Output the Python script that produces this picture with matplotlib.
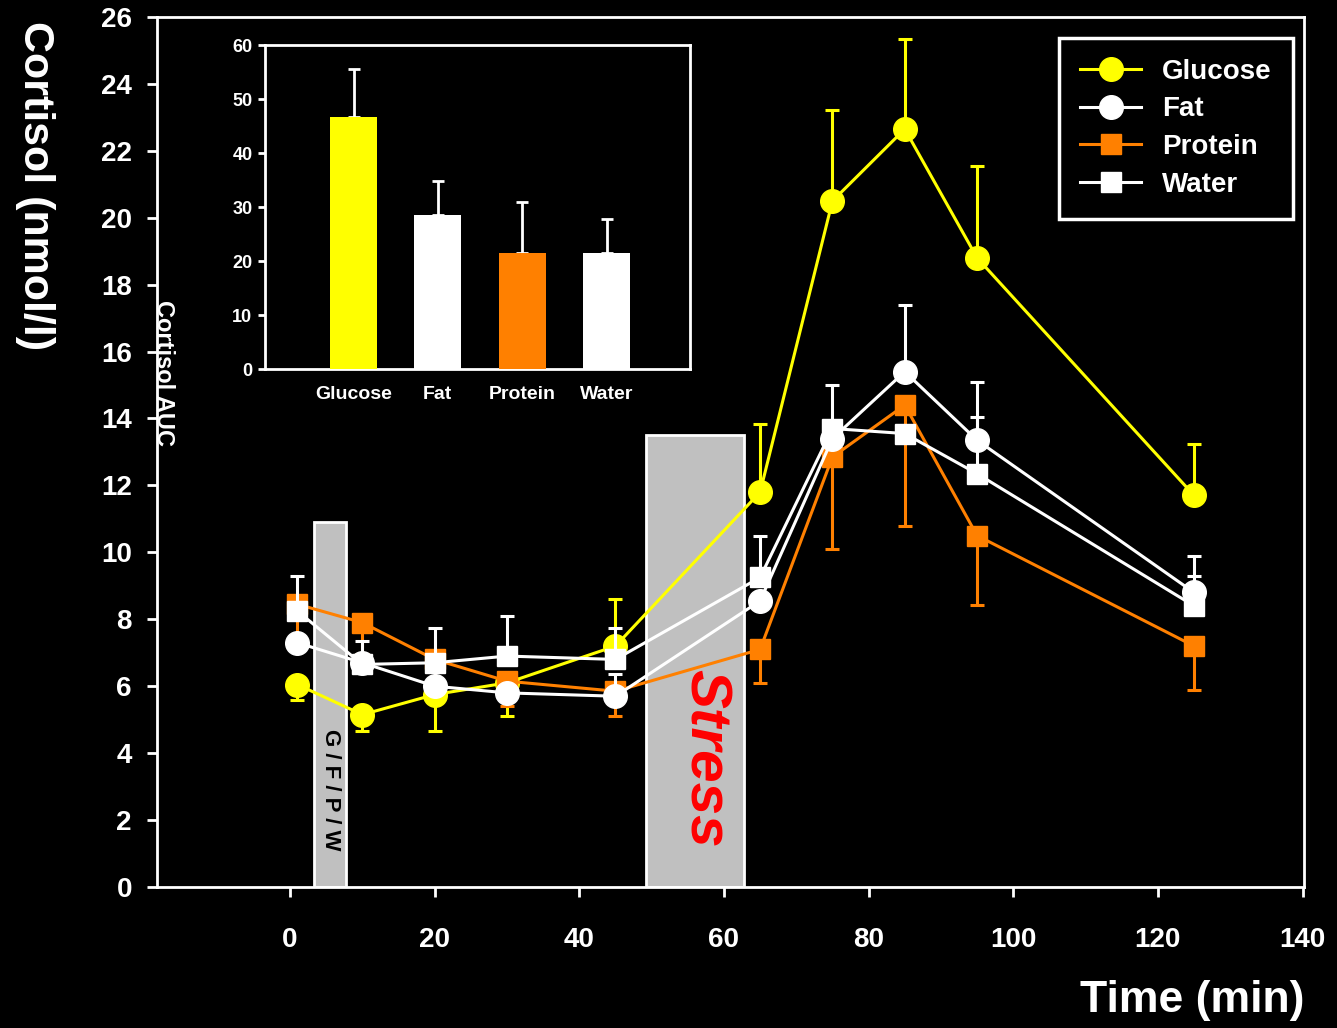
import numpy as np
import matplotlib.pyplot as plt
from matplotlib.patches import Rectangle

plt.rcParams['font.family'] = ['Liberation Sans', 'DejaVu Sans']
plt.rcParams['font.weight'] = 'bold'

# sampling times (min)
time_min = [1, 10, 20, 30, 45, 65, 75, 85, 95, 125]

# cortisol means (nmol/l) and one-sided SEM bars
glucose = [6.05, 5.15, 5.75, 6.1, 7.2, 11.8, 20.5, 22.65, 18.8, 11.7]
glucose_lo = [0.45, 0.5, 1.1, 1.0, 0, 0, 0, 0, 0, 0]
glucose_hi = [0, 0, 0, 0, 1.42, 2.03, 2.73, 2.68, 2.76, 1.53]

fat = [7.3, 6.7, 6.0, 5.8, 5.7, 8.55, 13.4, 15.4, 13.35, 8.8]
fat_lo = [0, 0, 0, 0, 0, 0, 0, 0, 0, 0]
fat_hi = [0, 0, 0, 0, 0.65, 0, 1.6, 2.0, 1.75, 1.1]

protein = [8.45, 7.9, 6.8, 6.15, 5.85, 7.1, 12.85, 14.4, 10.5, 7.2]
protein_lo = [1.25, 0.93, 0.9, 0.75, 0.75, 1.0, 2.76, 3.6, 2.06, 1.3]
protein_hi = [0, 0, 0, 0, 0, 0, 0, 0, 0, 0]

water = [8.25, 6.65, 6.7, 6.9, 6.8, 9.25, 13.7, 13.55, 12.35, 8.4]
water_lo = [0, 0, 0, 0, 0, 0, 0, 0, 0, 0]
water_hi = [1.05, 0.7, 1.05, 1.2, 0.95, 1.25, 0, 0, 1.7, 0.9]

# area under the curve per drink
auc_groups = ['Glucose', 'Fat', 'Protein', 'Water']
auc_mean = [46.7, 28.6, 21.5, 21.5]
auc_err = [8.8, 6.3, 9.5, 6.3]

YELLOW = '#FFFF00'
ORANGE = '#FF8000'
WHITE = '#FFFFFF'
GREY = '#C0C0C0'

fig = plt.figure(figsize=(13.37, 10.28), dpi=100, facecolor='black')
ax = fig.add_axes([0.1174, 0.1372, 0.8579, 0.8463], facecolor='black')

# drink and stress periods
ax.add_patch(Rectangle((3.3, 0), 4.45, 10.9, facecolor=GREY, edgecolor=WHITE,
                       lw=2, zorder=1))
ax.add_patch(Rectangle((49.2, 0), 13.6, 13.5, facecolor=GREY, edgecolor=WHITE,
                       lw=2, zorder=1))
ax.text(5.6, 2.9, 'G / F / P / W', rotation=270, ha='center', va='center',
        fontsize=16, color='black', zorder=2)
ax.text(57.4, 3.85, 'Stress', rotation=270, ha='center', va='center',
        fontsize=42, color='#FF0000', fontstyle='italic', zorder=2)

series = [
    ('Glucose', glucose, glucose_lo, glucose_hi, YELLOW, 'o', 17, 3),
    ('Protein', protein, protein_lo, protein_hi, ORANGE, 's', 15, 4),
    ('Fat', fat, fat_lo, fat_hi, WHITE, 'o', 17, 5),
    ('Water', water, water_lo, water_hi, WHITE, 's', 15, 6),
]
lines = {}
for name, y, lo, hi, col, mk, ms, z in series:
    ax.errorbar(time_min, y, yerr=[lo, hi], fmt='none', ecolor=col,
                elinewidth=2.2, capsize=5, capthick=2.2, zorder=z)
    ln, = ax.plot(time_min, y, color=col, lw=2.2, marker=mk, ms=ms,
                  mfc=col, mec=col, label=name, zorder=z + 0.5)
    lines[name] = ln

ax.set_xlim(-18.4, 140.2)
ax.set_ylim(0, 26)
ax.set_xticks(np.arange(0, 141, 20))
ax.set_yticks(np.arange(0, 27, 2))
for s in ax.spines.values():
    s.set_color(WHITE)
    s.set_linewidth(2)
ax.tick_params(axis='both', colors=WHITE, direction='out', length=7, width=2,
               labelsize=20)
ax.tick_params(axis='x', pad=22)
ax.tick_params(axis='y', pad=11)

leg = ax.legend([lines[n] for n in ['Glucose', 'Fat', 'Protein', 'Water']],
                ['Glucose', 'Fat', 'Protein', 'Water'],
                loc='upper right', bbox_to_anchor=(0.99, 0.976),
                fontsize=20, frameon=True, fancybox=False, facecolor='black',
                edgecolor=WHITE, framealpha=1, labelcolor=WHITE,
                handlelength=2.2, handletextpad=0.75, labelspacing=0.42,
                borderpad=0.75, borderaxespad=0)
leg.get_frame().set_linewidth(2.5)
leg.set_zorder(10)

fig.text(0.026, 0.98, 'Cortisol (nmol/l)', rotation=270, ha='center', va='top',
         fontsize=31, color=WHITE)
fig.text(0.976, 0.027, 'Time (min)', ha='right', va='center', fontsize=32,
         color=WHITE)

# inset: cortisol AUC per drink
ins = fig.add_axes([0.1982, 0.641, 0.3179, 0.3152], facecolor='black')
xpos = np.arange(len(auc_groups))
ins.bar(xpos, auc_mean, width=0.56, color=[YELLOW, WHITE, ORANGE, WHITE],
        zorder=3)
ins.errorbar(xpos, auc_mean, yerr=[np.zeros(len(auc_err)), auc_err],
             fmt='none', ecolor=WHITE, elinewidth=2, capsize=4, capthick=2,
             zorder=2)
ins.set_xlim(-1.05, 3.99)
ins.set_ylim(0, 60)
ins.set_yticks(np.arange(0, 61, 10))
ins.set_xticks(xpos)
ins.set_xticklabels(auc_groups)
for s in ins.spines.values():
    s.set_color(WHITE)
    s.set_linewidth(2)
ins.tick_params(axis='y', colors=WHITE, direction='out', length=5, width=2,
                labelsize=13, pad=4)
ins.tick_params(axis='x', colors=WHITE, length=0, labelsize=14, pad=12)
fig.text(0.122, 0.637, 'Cortisol AUC', rotation=270, ha='center',
         va='center', fontsize=17, color=WHITE)

fig.savefig('out.png', dpi=100, facecolor='black')
